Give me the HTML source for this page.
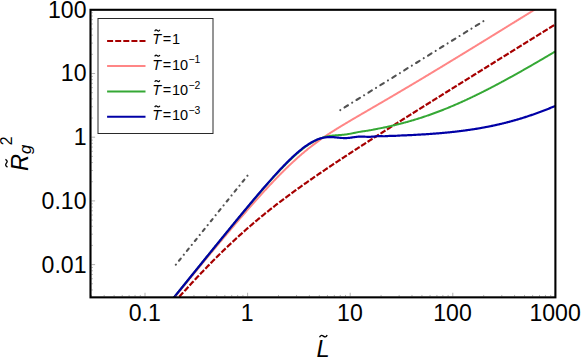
<!DOCTYPE html>
<html><head><meta charset="utf-8"><style>
html,body{margin:0;padding:0;background:#fff}
svg{display:block}
text{font-family:"Liberation Sans",sans-serif;fill:#000}
</style></head><body>
<svg width="581" height="357" viewBox="0 0 581 357">
<rect width="581" height="357" fill="#fff"/>
<defs><clipPath id="c"><rect x="90.5" y="9.8" width="464.9" height="287.55"/></clipPath></defs>
<g clip-path="url(#c)">
<path d="M144.18,337.23 L144.85,336.44 L145.52,335.65 L146.19,334.86 L146.86,334.07 L147.53,333.28 L148.20,332.49 L148.87,331.71 L149.54,330.92 L150.22,330.13 L150.89,329.35 L151.56,328.56 L152.23,327.78 L152.90,327.00 L153.57,326.21 L154.24,325.43 L154.91,324.65 L155.58,323.87 L156.25,323.09 L156.92,322.31 L157.59,321.53 L158.26,320.76 L158.94,319.98 L159.61,319.20 L160.28,318.43 L160.95,317.66 L161.62,316.88 L162.29,316.11 L162.96,315.34 L163.63,314.57 L164.30,313.80 L164.97,313.03 L165.64,312.26 L166.31,311.49 L166.99,310.72 L167.66,309.96 L168.33,309.19 L169.00,308.43 L169.67,307.67 L170.34,306.90 L171.01,306.14 L171.68,305.38 L172.35,304.62 L173.02,303.87 L173.69,303.11 L174.36,302.35 L175.04,301.60 L175.71,300.84 L176.38,300.09 L177.05,299.34 L177.72,298.59 L178.39,297.84 L179.06,297.09 L179.73,296.34 L180.40,295.59 L181.07,294.85 L181.74,294.10 L182.41,293.36 L183.08,292.62 L183.76,291.88 L184.43,291.14 L185.10,290.40 L185.77,289.66 L186.44,288.92 L187.11,288.19 L187.78,287.46 L188.45,286.72 L189.12,285.99 L189.79,285.26 L190.46,284.53 L191.13,283.81 L191.81,283.08 L192.48,282.35 L193.15,281.63 L193.82,280.91 L194.49,280.19 L195.16,279.47 L195.83,278.75 L196.50,278.03 L197.17,277.32 L197.84,276.61 L198.51,275.89 L199.18,275.18 L199.86,274.47 L200.53,273.76 L201.20,273.06 L201.87,272.35 L202.54,271.65 L203.21,270.95 L203.88,270.25 L204.55,269.55 L205.22,268.85 L205.89,268.15 L206.56,267.46 L207.23,266.77 L207.91,266.08 L208.58,265.39 L209.25,264.70 L209.92,264.01 L210.59,263.33 L211.26,262.64 L211.93,261.96 L212.60,261.28 L213.27,260.60 L213.94,259.93 L214.61,259.25 L215.28,258.58 L215.95,257.91 L216.63,257.24 L217.30,256.57 L217.97,255.90 L218.64,255.24 L219.31,254.58 L219.98,253.92 L220.65,253.26 L221.32,252.60 L221.99,251.94 L222.66,251.29 L223.33,250.64 L224.00,249.99 L224.68,249.34 L225.35,248.69 L226.02,248.05 L226.69,247.40 L227.36,246.76 L228.03,246.12 L228.70,245.48 L229.37,244.85 L230.04,244.21 L230.71,243.58 L231.38,242.95 L232.05,242.32 L232.73,241.69 L233.40,241.07 L234.07,240.45 L234.74,239.83 L235.41,239.21 L236.08,238.59 L236.75,237.97 L237.42,237.36 L238.09,236.75 L238.76,236.14 L239.43,235.53 L240.10,234.92 L240.78,234.32 L241.45,233.71 L242.12,233.11 L242.79,232.51 L243.46,231.91 L244.13,231.32 L244.80,230.72 L245.47,230.13 L246.14,229.54 L246.81,228.95 L247.48,228.37 L248.15,227.78 L248.82,227.20 L249.50,226.62 L250.17,226.04 L250.84,225.46 L251.51,224.88 L252.18,224.31 L252.85,223.74 L253.52,223.16 L254.19,222.60 L254.86,222.03 L255.53,221.46 L256.20,220.90 L256.87,220.34 L257.55,219.77 L258.22,219.22 L258.89,218.66 L259.56,218.10 L260.23,217.55 L260.90,217.00 L261.57,216.44 L262.24,215.90 L262.91,215.35 L263.58,214.80 L264.25,214.26 L264.92,213.71 L265.60,213.17 L266.27,212.63 L266.94,212.09 L267.61,211.56 L268.28,211.02 L268.95,210.49 L269.62,209.96 L270.29,209.42 L270.96,208.89 L271.63,208.37 L272.30,207.84 L272.97,207.31 L273.65,206.79 L274.32,206.27 L274.99,205.75 L275.66,205.23 L276.33,204.71 L277.00,204.19 L277.67,203.68 L278.34,203.16 L279.01,202.65 L279.68,202.14 L280.35,201.62 L281.02,201.12 L281.69,200.61 L282.37,200.10 L283.04,199.59 L283.71,199.09 L284.38,198.59 L285.05,198.08 L285.72,197.58 L286.39,197.08 L287.06,196.58 L287.73,196.09 L288.40,195.59 L289.07,195.09 L289.74,194.60 L290.42,194.11 L291.09,193.61 L291.76,193.12 L292.43,192.63 L293.10,192.14 L293.77,191.65 L294.44,191.17 L295.11,190.68 L295.78,190.20 L296.45,189.71 L297.12,189.23 L297.79,188.75 L298.47,188.26 L299.14,187.78 L299.81,187.30 L300.48,186.82 L301.15,186.35 L301.82,185.87 L302.49,185.39 L303.16,184.92 L303.83,184.44 L304.50,183.97 L305.17,183.50 L305.84,183.02 L306.52,182.55 L307.19,182.08 L307.86,181.61 L308.53,181.14 L309.20,180.67 L309.87,180.21 L310.54,179.74 L311.21,179.27 L311.88,178.81 L312.55,178.34 L313.22,177.88 L313.89,177.42 L314.56,176.95 L315.24,176.49 L315.91,176.03 L316.58,175.57 L317.25,175.11 L317.92,174.65 L318.59,174.19 L319.26,173.73 L319.93,173.27 L320.60,172.82 L321.27,172.36 L321.94,171.90 L322.61,171.45 L323.29,170.99 L323.96,170.54 L324.63,170.09 L325.30,169.63 L325.97,169.18 L326.64,168.73 L327.31,168.28 L327.98,167.83 L328.65,167.38 L329.32,166.93 L329.99,166.48 L330.66,166.03 L331.34,165.58 L332.01,165.13 L332.68,164.68 L333.35,164.23 L334.02,163.79 L334.69,163.34 L335.36,162.90 L336.03,162.45 L336.70,162.00 L337.37,161.56 L338.04,161.12 L338.71,160.67 L339.38,160.23 L340.06,159.79 L340.73,159.34 L341.40,158.90 L342.07,158.46 L342.74,158.02 L343.41,157.58 L344.08,157.14 L344.75,156.69 L345.42,156.25 L346.09,155.81 L346.76,155.38 L347.43,154.94 L348.11,154.50 L348.78,154.06 L349.45,153.62 L350.12,153.18 L350.79,152.75 L351.46,152.31 L352.13,151.87 L352.80,151.44 L353.47,151.00 L354.14,150.56 L354.81,150.13 L355.48,149.69 L356.16,149.26 L356.83,148.82 L357.50,148.39 L358.17,147.95 L358.84,147.52 L359.51,147.09 L360.18,146.65 L360.85,146.22 L361.52,145.79 L362.19,145.35 L362.86,144.92 L363.53,144.49 L364.21,144.06 L364.88,143.62 L365.55,143.19 L366.22,142.76 L366.89,142.33 L367.56,141.90 L368.23,141.47 L368.90,141.04 L369.57,140.61 L370.24,140.18 L370.91,139.75 L371.58,139.32 L372.25,138.89 L372.93,138.46 L373.60,138.03 L374.27,137.60 L374.94,137.17 L375.61,136.74 L376.28,136.31 L376.95,135.89 L377.62,135.46 L378.29,135.03 L378.96,134.60 L379.63,134.18 L380.30,133.75 L380.98,133.32 L381.65,132.89 L382.32,132.47 L382.99,132.04 L383.66,131.61 L384.33,131.19 L385.00,130.76 L385.67,130.33 L386.34,129.91 L387.01,129.48 L387.68,129.06 L388.35,128.63 L389.03,128.21 L389.70,127.78 L390.37,127.36 L391.04,126.93 L391.71,126.51 L392.38,126.08 L393.05,125.66 L393.72,125.23 L394.39,124.81 L395.06,124.38 L395.73,123.96 L396.40,123.53 L397.08,123.11 L397.75,122.69 L398.42,122.26 L399.09,121.84 L399.76,121.42 L400.43,120.99 L401.10,120.57 L401.77,120.15 L402.44,119.72 L403.11,119.30 L403.78,118.88 L404.45,118.45 L405.12,118.03 L405.80,117.61 L406.47,117.19 L407.14,116.76 L407.81,116.34 L408.48,115.92 L409.15,115.50 L409.82,115.07 L410.49,114.65 L411.16,114.23 L411.83,113.81 L412.50,113.39 L413.17,112.96 L413.85,112.54 L414.52,112.12 L415.19,111.70 L415.86,111.28 L416.53,110.86 L417.20,110.44 L417.87,110.01 L418.54,109.59 L419.21,109.17 L419.88,108.75 L420.55,108.33 L421.22,107.91 L421.90,107.49 L422.57,107.07 L423.24,106.65 L423.91,106.23 L424.58,105.81 L425.25,105.39 L425.92,104.97 L426.59,104.55 L427.26,104.12 L427.93,103.70 L428.60,103.28 L429.27,102.86 L429.95,102.44 L430.62,102.02 L431.29,101.60 L431.96,101.18 L432.63,100.76 L433.30,100.34 L433.97,99.92 L434.64,99.51 L435.31,99.09 L435.98,98.67 L436.65,98.25 L437.32,97.83 L437.99,97.41 L438.67,96.99 L439.34,96.57 L440.01,96.15 L440.68,95.73 L441.35,95.31 L442.02,94.89 L442.69,94.47 L443.36,94.05 L444.03,93.63 L444.70,93.21 L445.37,92.80 L446.04,92.38 L446.72,91.96 L447.39,91.54 L448.06,91.12 L448.73,90.70 L449.40,90.28 L450.07,89.86 L450.74,89.44 L451.41,89.03 L452.08,88.61 L452.75,88.19 L453.42,87.77 L454.09,87.35 L454.77,86.93 L455.44,86.51 L456.11,86.10 L456.78,85.68 L457.45,85.26 L458.12,84.84 L458.79,84.42 L459.46,84.00 L460.13,83.59 L460.80,83.17 L461.47,82.75 L462.14,82.33 L462.82,81.91 L463.49,81.49 L464.16,81.08 L464.83,80.66 L465.50,80.24 L466.17,79.82 L466.84,79.40 L467.51,78.99 L468.18,78.57 L468.85,78.15 L469.52,77.73 L470.19,77.31 L470.86,76.90 L471.54,76.48 L472.21,76.06 L472.88,75.64 L473.55,75.22 L474.22,74.81 L474.89,74.39 L475.56,73.97 L476.23,73.55 L476.90,73.14 L477.57,72.72 L478.24,72.30 L478.91,71.88 L479.59,71.47 L480.26,71.05 L480.93,70.63 L481.60,70.21 L482.27,69.79 L482.94,69.38 L483.61,68.96 L484.28,68.54 L484.95,68.12 L485.62,67.71 L486.29,67.29 L486.96,66.87 L487.64,66.45 L488.31,66.04 L488.98,65.62 L489.65,65.20 L490.32,64.78 L490.99,64.37 L491.66,63.95 L492.33,63.53 L493.00,63.12 L493.67,62.70 L494.34,62.28 L495.01,61.86 L495.68,61.45 L496.36,61.03 L497.03,60.61 L497.70,60.19 L498.37,59.78 L499.04,59.36 L499.71,58.94 L500.38,58.53 L501.05,58.11 L501.72,57.69 L502.39,57.27 L503.06,56.86 L503.73,56.44 L504.41,56.02 L505.08,55.60 L505.75,55.19 L506.42,54.77 L507.09,54.35 L507.76,53.94 L508.43,53.52 L509.10,53.10 L509.77,52.69 L510.44,52.27 L511.11,51.85 L511.78,51.43 L512.46,51.02 L513.13,50.60 L513.80,50.18 L514.47,49.77 L515.14,49.35 L515.81,48.93 L516.48,48.51 L517.15,48.10 L517.82,47.68 L518.49,47.26 L519.16,46.85 L519.83,46.43 L520.51,46.01 L521.18,45.60 L521.85,45.18 L522.52,44.76 L523.19,44.35 L523.86,43.93 L524.53,43.51 L525.20,43.09 L525.87,42.68 L526.54,42.26 L527.21,41.84 L527.88,41.43 L528.55,41.01 L529.23,40.59 L529.90,40.18 L530.57,39.76 L531.24,39.34 L531.91,38.93 L532.58,38.51 L533.25,38.09 L533.92,37.68 L534.59,37.26 L535.26,36.84 L535.93,36.42 L536.60,36.01 L537.28,35.59 L537.95,35.17 L538.62,34.76 L539.29,34.34 L539.96,33.92 L540.63,33.51 L541.30,33.09 L541.97,32.67 L542.64,32.26 L543.31,31.84 L543.98,31.42 L544.65,31.01 L545.33,30.59 L546.00,30.17 L546.67,29.76 L547.34,29.34 L548.01,28.92 L548.68,28.51 L549.35,28.09 L550.02,27.67 L550.69,27.26 L551.36,26.84 L552.03,26.42 L552.70,26.01 L553.38,25.59 L554.05,25.17 L554.72,24.76 L555.39,24.34 L556.06,23.92 L556.73,23.51 L557.40,23.09" fill="none" stroke="#a60000" stroke-width="2.2" stroke-dasharray="5.9 1.75" stroke-linejoin="round"/>
<path d="M142.17,337.18 L142.84,336.35 L143.51,335.52 L144.18,334.69 L144.85,333.86 L145.52,333.04 L146.19,332.21 L146.86,331.38 L147.53,330.55 L148.20,329.73 L148.87,328.90 L149.54,328.07 L150.22,327.24 L150.89,326.42 L151.56,325.59 L152.23,324.76 L152.90,323.94 L153.57,323.11 L154.24,322.28 L154.91,321.46 L155.58,320.63 L156.25,319.80 L156.92,318.98 L157.59,318.15 L158.26,317.32 L158.94,316.50 L159.61,315.67 L160.28,314.85 L160.95,314.02 L161.62,313.20 L162.29,312.37 L162.96,311.55 L163.63,310.72 L164.30,309.90 L164.97,309.07 L165.64,308.25 L166.31,307.42 L166.99,306.60 L167.66,305.77 L168.33,304.95 L169.00,304.12 L169.67,303.30 L170.34,302.48 L171.01,301.65 L171.68,300.83 L172.35,300.01 L173.02,299.18 L173.69,298.36 L174.36,297.54 L175.04,296.71 L175.71,295.89 L176.38,295.07 L177.05,294.25 L177.72,293.43 L178.39,292.60 L179.06,291.78 L179.73,290.96 L180.40,290.14 L181.07,289.32 L181.74,288.50 L182.41,287.68 L183.08,286.86 L183.76,286.04 L184.43,285.22 L185.10,284.40 L185.77,283.58 L186.44,282.76 L187.11,281.94 L187.78,281.12 L188.45,280.30 L189.12,279.48 L189.79,278.66 L190.46,277.85 L191.13,277.03 L191.81,276.21 L192.48,275.39 L193.15,274.58 L193.82,273.76 L194.49,272.94 L195.16,272.13 L195.83,271.31 L196.50,270.50 L197.17,269.68 L197.84,268.87 L198.51,268.05 L199.18,267.24 L199.86,266.42 L200.53,265.61 L201.20,264.80 L201.87,263.98 L202.54,263.17 L203.21,262.36 L203.88,261.55 L204.55,260.73 L205.22,259.92 L205.89,259.11 L206.56,258.30 L207.23,257.49 L207.91,256.68 L208.58,255.87 L209.25,255.06 L209.92,254.25 L210.59,253.45 L211.26,252.64 L211.93,251.83 L212.60,251.02 L213.27,250.22 L213.94,249.41 L214.61,248.61 L215.28,247.80 L215.95,247.00 L216.63,246.19 L217.30,245.39 L217.97,244.59 L218.64,243.78 L219.31,242.98 L219.98,242.18 L220.65,241.38 L221.32,240.58 L221.99,239.78 L222.66,238.98 L223.33,238.18 L224.00,237.38 L224.68,236.58 L225.35,235.79 L226.02,234.99 L226.69,234.20 L227.36,233.40 L228.03,232.61 L228.70,231.81 L229.37,231.02 L230.04,230.23 L230.71,229.44 L231.38,228.65 L232.05,227.86 L232.73,227.07 L233.40,226.28 L234.07,225.49 L234.74,224.70 L235.41,223.92 L236.08,223.13 L236.75,222.35 L237.42,221.57 L238.09,220.78 L238.76,220.00 L239.43,219.22 L240.10,218.44 L240.78,217.66 L241.45,216.88 L242.12,216.11 L242.79,215.33 L243.46,214.56 L244.13,213.78 L244.80,213.01 L245.47,212.24 L246.14,211.47 L246.81,210.70 L247.48,209.93 L248.15,209.16 L248.82,208.40 L249.50,207.63 L250.17,206.87 L250.84,206.11 L251.51,205.34 L252.18,204.58 L252.85,203.83 L253.52,203.07 L254.19,202.31 L254.86,201.56 L255.53,200.81 L256.20,200.06 L256.87,199.31 L257.55,198.56 L258.22,197.81 L258.89,197.06 L259.56,196.32 L260.23,195.58 L260.90,194.84 L261.57,194.10 L262.24,193.36 L262.91,192.63 L263.58,191.89 L264.25,191.16 L264.92,190.43 L265.60,189.70 L266.27,188.98 L266.94,188.25 L267.61,187.53 L268.28,186.81 L268.95,186.09 L269.62,185.37 L270.29,184.66 L270.96,183.95 L271.63,183.24 L272.30,182.53 L272.97,181.82 L273.65,181.12 L274.32,180.42 L274.99,179.72 L275.66,179.03 L276.33,178.33 L277.00,177.64 L277.67,176.95 L278.34,176.26 L279.01,175.58 L279.68,174.90 L280.35,174.22 L281.02,173.54 L281.69,172.87 L282.37,172.20 L283.04,171.53 L283.71,170.87 L284.38,170.20 L285.05,169.55 L285.72,168.89 L286.39,168.24 L287.06,167.59 L287.73,166.94 L288.40,166.29 L289.07,165.65 L289.74,165.01 L290.42,164.38 L291.09,163.75 L291.76,163.12 L292.43,162.49 L293.10,161.87 L293.77,161.25 L294.44,160.64 L295.11,160.03 L295.78,159.42 L296.45,158.82 L297.12,158.21 L297.79,157.62 L298.47,157.02 L299.14,156.43 L299.81,155.84 L300.48,155.26 L301.15,154.68 L301.82,154.11 L302.49,153.53 L303.16,152.97 L303.83,152.40 L304.50,151.84 L305.17,151.28 L305.84,150.73 L306.52,150.18 L307.19,149.63 L307.86,149.09 L308.53,148.55 L309.20,148.02 L309.87,147.48 L310.54,146.96 L311.21,146.43 L311.88,145.91 L312.55,145.40 L313.22,144.88 L313.89,144.37 L314.56,143.87 L315.24,143.37 L315.91,142.87 L316.58,142.37 L317.25,141.88 L317.92,141.39 L318.59,140.91 L319.26,140.43 L319.93,139.95 L320.60,139.47 L321.27,139.00 L321.94,138.53 L322.61,138.07 L323.29,137.61 L323.96,137.15 L324.63,136.69 L325.30,136.24 L325.97,135.78 L326.64,135.34 L327.31,134.89 L327.98,134.45 L328.65,134.01 L329.32,133.57 L329.99,133.13 L330.66,132.70 L331.34,132.27 L332.01,131.84 L332.68,131.41 L333.35,130.99 L334.02,130.56 L334.69,130.14 L335.36,129.72 L336.03,129.30 L336.70,128.89 L337.37,128.47 L338.04,128.06 L338.71,127.65 L339.38,127.23 L340.06,126.83 L340.73,126.42 L341.40,126.01 L342.07,125.60 L342.74,125.20 L343.41,124.79 L344.08,124.39 L344.75,123.99 L345.42,123.59 L346.09,123.19 L346.76,122.79 L347.43,122.39 L348.11,121.99 L348.78,121.59 L349.45,121.19 L350.12,120.80 L350.79,120.40 L351.46,120.00 L352.13,119.61 L352.80,119.21 L353.47,118.82 L354.14,118.43 L354.81,118.03 L355.48,117.64 L356.16,117.25 L356.83,116.85 L357.50,116.46 L358.17,116.07 L358.84,115.68 L359.51,115.29 L360.18,114.89 L360.85,114.50 L361.52,114.11 L362.19,113.72 L362.86,113.33 L363.53,112.94 L364.21,112.55 L364.88,112.16 L365.55,111.77 L366.22,111.38 L366.89,110.99 L367.56,110.60 L368.23,110.21 L368.90,109.82 L369.57,109.43 L370.24,109.04 L370.91,108.65 L371.58,108.26 L372.25,107.87 L372.93,107.48 L373.60,107.09 L374.27,106.70 L374.94,106.31 L375.61,105.92 L376.28,105.53 L376.95,105.14 L377.62,104.75 L378.29,104.36 L378.96,103.97 L379.63,103.58 L380.30,103.19 L380.98,102.80 L381.65,102.41 L382.32,102.02 L382.99,101.63 L383.66,101.24 L384.33,100.84 L385.00,100.45 L385.67,100.06 L386.34,99.67 L387.01,99.28 L387.68,98.88 L388.35,98.49 L389.03,98.10 L389.70,97.71 L390.37,97.31 L391.04,96.92 L391.71,96.53 L392.38,96.13 L393.05,95.74 L393.72,95.35 L394.39,94.95 L395.06,94.56 L395.73,94.16 L396.40,93.77 L397.08,93.38 L397.75,92.98 L398.42,92.59 L399.09,92.19 L399.76,91.79 L400.43,91.40 L401.10,91.00 L401.77,90.61 L402.44,90.21 L403.11,89.81 L403.78,89.42 L404.45,89.02 L405.12,88.62 L405.80,88.23 L406.47,87.83 L407.14,87.43 L407.81,87.04 L408.48,86.64 L409.15,86.24 L409.82,85.84 L410.49,85.44 L411.16,85.04 L411.83,84.64 L412.50,84.25 L413.17,83.85 L413.85,83.45 L414.52,83.05 L415.19,82.65 L415.86,82.25 L416.53,81.85 L417.20,81.45 L417.87,81.05 L418.54,80.65 L419.21,80.25 L419.88,79.84 L420.55,79.44 L421.22,79.04 L421.90,78.64 L422.57,78.24 L423.24,77.84 L423.91,77.43 L424.58,77.03 L425.25,76.63 L425.92,76.23 L426.59,75.82 L427.26,75.42 L427.93,75.02 L428.60,74.62 L429.27,74.21 L429.95,73.81 L430.62,73.40 L431.29,73.00 L431.96,72.60 L432.63,72.19 L433.30,71.79 L433.97,71.38 L434.64,70.98 L435.31,70.57 L435.98,70.17 L436.65,69.76 L437.32,69.36 L437.99,68.95 L438.67,68.55 L439.34,68.14 L440.01,67.74 L440.68,67.33 L441.35,66.92 L442.02,66.52 L442.69,66.11 L443.36,65.71 L444.03,65.30 L444.70,64.89 L445.37,64.49 L446.04,64.08 L446.72,63.67 L447.39,63.26 L448.06,62.86 L448.73,62.45 L449.40,62.04 L450.07,61.63 L450.74,61.23 L451.41,60.82 L452.08,60.41 L452.75,60.00 L453.42,59.59 L454.09,59.19 L454.77,58.78 L455.44,58.37 L456.11,57.96 L456.78,57.55 L457.45,57.14 L458.12,56.73 L458.79,56.32 L459.46,55.92 L460.13,55.51 L460.80,55.10 L461.47,54.69 L462.14,54.28 L462.82,53.87 L463.49,53.46 L464.16,53.05 L464.83,52.64 L465.50,52.23 L466.17,51.82 L466.84,51.41 L467.51,51.00 L468.18,50.59 L468.85,50.18 L469.52,49.77 L470.19,49.36 L470.86,48.95 L471.54,48.53 L472.21,48.12 L472.88,47.71 L473.55,47.30 L474.22,46.89 L474.89,46.48 L475.56,46.07 L476.23,45.66 L476.90,45.25 L477.57,44.83 L478.24,44.42 L478.91,44.01 L479.59,43.60 L480.26,43.19 L480.93,42.78 L481.60,42.36 L482.27,41.95 L482.94,41.54 L483.61,41.13 L484.28,40.72 L484.95,40.30 L485.62,39.89 L486.29,39.48 L486.96,39.07 L487.64,38.65 L488.31,38.24 L488.98,37.83 L489.65,37.42 L490.32,37.00 L490.99,36.59 L491.66,36.18 L492.33,35.76 L493.00,35.35 L493.67,34.94 L494.34,34.53 L495.01,34.11 L495.68,33.70 L496.36,33.29 L497.03,32.87 L497.70,32.46 L498.37,32.05 L499.04,31.63 L499.71,31.22 L500.38,30.81 L501.05,30.39 L501.72,29.98 L502.39,29.57 L503.06,29.15 L503.73,28.74 L504.41,28.33 L505.08,27.91 L505.75,27.50 L506.42,27.08 L507.09,26.67 L507.76,26.26 L508.43,25.84 L509.10,25.43 L509.77,25.02 L510.44,24.60 L511.11,24.19 L511.78,23.77 L512.46,23.36 L513.13,22.94 L513.80,22.53 L514.47,22.12 L515.14,21.70 L515.81,21.29 L516.48,20.87 L517.15,20.46 L517.82,20.04 L518.49,19.63 L519.16,19.22 L519.83,18.80 L520.51,18.39 L521.18,17.97 L521.85,17.56 L522.52,17.14 L523.19,16.73 L523.86,16.31 L524.53,15.90 L525.20,15.48 L525.87,15.07 L526.54,14.66 L527.21,14.24 L527.88,13.83 L528.55,13.41 L529.23,13.00 L529.90,12.58 L530.57,12.17 L531.24,11.75 L531.91,11.34 L532.58,10.92 L533.25,10.51 L533.92,10.09 L534.59,9.68 L535.26,9.26 L535.93,8.85 L536.60,8.43 L537.28,8.02 L537.95,7.60 L538.62,7.19 L539.29,6.77 L539.96,6.36 L540.63,5.94 L541.30,5.53 L541.97,5.11 L542.64,4.69 L543.31,4.28 L543.98,3.86 L544.65,3.45 L545.33,3.03 L546.00,2.62 L546.67,2.20 L547.34,1.79 L548.01,1.37 L548.68,0.96 L549.35,0.54 L550.02,0.13 L550.69,-0.29 L551.36,-0.71 L552.03,-1.12 L552.70,-1.54 L553.38,-1.95 L554.05,-2.37 L554.72,-2.78 L555.39,-3.20 L556.06,-3.61 L556.73,-4.03 L557.40,-4.45" fill="none" stroke="#ff8686" stroke-width="2.0" stroke-linejoin="round"/>
<path d="M142.17,336.91 L142.84,336.07 L143.51,335.24 L144.18,334.41 L144.85,333.58 L145.52,332.74 L146.19,331.91 L146.86,331.08 L147.53,330.25 L148.20,329.42 L148.87,328.58 L149.54,327.75 L150.22,326.92 L150.89,326.09 L151.56,325.26 L152.23,324.42 L152.90,323.59 L153.57,322.76 L154.24,321.93 L154.91,321.10 L155.58,320.26 L156.25,319.43 L156.92,318.60 L157.59,317.77 L158.26,316.94 L158.94,316.11 L159.61,315.27 L160.28,314.44 L160.95,313.61 L161.62,312.78 L162.29,311.95 L162.96,311.12 L163.63,310.28 L164.30,309.45 L164.97,308.62 L165.64,307.79 L166.31,306.96 L166.99,306.13 L167.66,305.30 L168.33,304.46 L169.00,303.63 L169.67,302.80 L170.34,301.97 L171.01,301.14 L171.68,300.31 L172.35,299.48 L173.02,298.65 L173.69,297.82 L174.36,296.98 L175.04,296.15 L175.71,295.32 L176.38,294.49 L177.05,293.66 L177.72,292.83 L178.39,292.00 L179.06,291.17 L179.73,290.34 L180.40,289.51 L181.07,288.68 L181.74,287.85 L182.41,287.02 L183.08,286.19 L183.76,285.36 L184.43,284.53 L185.10,283.70 L185.77,282.87 L186.44,282.04 L187.11,281.21 L187.78,280.38 L188.45,279.55 L189.12,278.72 L189.79,277.89 L190.46,277.06 L191.13,276.23 L191.81,275.40 L192.48,274.57 L193.15,273.74 L193.82,272.91 L194.49,272.08 L195.16,271.26 L195.83,270.43 L196.50,269.60 L197.17,268.77 L197.84,267.94 L198.51,267.11 L199.18,266.29 L199.86,265.46 L200.53,264.63 L201.20,263.80 L201.87,262.97 L202.54,262.15 L203.21,261.32 L203.88,260.49 L204.55,259.67 L205.22,258.84 L205.89,258.01 L206.56,257.19 L207.23,256.36 L207.91,255.53 L208.58,254.71 L209.25,253.88 L209.92,253.06 L210.59,252.23 L211.26,251.40 L211.93,250.58 L212.60,249.75 L213.27,248.93 L213.94,248.11 L214.61,247.28 L215.28,246.46 L215.95,245.63 L216.63,244.81 L217.30,243.99 L217.97,243.16 L218.64,242.34 L219.31,241.52 L219.98,240.70 L220.65,239.87 L221.32,239.05 L221.99,238.23 L222.66,237.41 L223.33,236.59 L224.00,235.77 L224.68,234.95 L225.35,234.13 L226.02,233.31 L226.69,232.49 L227.36,231.67 L228.03,230.85 L228.70,230.03 L229.37,229.22 L230.04,228.40 L230.71,227.58 L231.38,226.77 L232.05,225.95 L232.73,225.13 L233.40,224.32 L234.07,223.51 L234.74,222.69 L235.41,221.88 L236.08,221.06 L236.75,220.25 L237.42,219.44 L238.09,218.63 L238.76,217.82 L239.43,217.01 L240.10,216.20 L240.78,215.39 L241.45,214.58 L242.12,213.78 L242.79,212.97 L243.46,212.16 L244.13,211.36 L244.80,210.55 L245.47,209.75 L246.14,208.95 L246.81,208.14 L247.48,207.34 L248.15,206.54 L248.82,205.74 L249.50,204.95 L250.17,204.15 L250.84,203.35 L251.51,202.56 L252.18,201.76 L252.85,200.97 L253.52,200.18 L254.19,199.38 L254.86,198.59 L255.53,197.81 L256.20,197.02 L256.87,196.23 L257.55,195.45 L258.22,194.66 L258.89,193.88 L259.56,193.10 L260.23,192.32 L260.90,191.54 L261.57,190.77 L262.24,189.99 L262.91,189.22 L263.58,188.45 L264.25,187.68 L264.92,186.91 L265.60,186.14 L266.27,185.38 L266.94,184.62 L267.61,183.86 L268.28,183.10 L268.95,182.34 L269.62,181.59 L270.29,180.84 L270.96,180.09 L271.63,179.34 L272.30,178.59 L272.97,177.85 L273.65,177.11 L274.32,176.37 L274.99,175.64 L275.66,174.91 L276.33,174.18 L277.00,173.45 L277.67,172.73 L278.34,172.01 L279.01,171.29 L279.68,170.58 L280.35,169.87 L281.02,169.16 L281.69,168.46 L282.37,167.76 L283.04,167.07 L283.71,166.37 L284.38,165.69 L285.05,165.00 L285.72,164.32 L286.39,163.65 L287.06,162.98 L287.73,162.31 L288.40,161.65 L289.07,160.99 L289.74,160.34 L290.42,159.69 L291.09,159.05 L291.76,158.41 L292.43,157.78 L293.10,157.16 L293.77,156.54 L294.44,155.92 L295.11,155.31 L295.78,154.71 L296.45,154.12 L297.12,153.53 L297.79,152.94 L298.47,152.37 L299.14,151.80 L299.81,151.24 L300.48,150.68 L301.15,150.14 L301.82,149.60 L302.49,149.07 L303.16,148.54 L303.83,148.03 L304.50,147.52 L305.17,147.02 L305.84,146.53 L306.52,146.05 L307.19,145.58 L307.86,145.12 L308.53,144.66 L309.20,144.22 L309.87,143.79 L310.54,143.36 L311.21,142.95 L311.88,142.55 L312.55,142.15 L313.22,141.77 L313.89,141.40 L314.56,141.04 L315.24,140.69 L315.91,140.35 L316.58,140.03 L317.25,139.71 L317.92,139.41 L318.59,139.12 L319.26,138.84 L319.93,138.57 L320.60,138.31 L321.27,138.07 L321.94,137.83 L322.61,137.61 L323.29,137.40 L323.96,137.20 L324.63,137.02 L325.30,136.84 L325.97,136.68 L326.64,136.52 L327.31,136.38 L327.98,136.25 L328.65,136.13 L329.32,136.01 L329.99,135.91 L330.66,135.81 L331.34,135.73 L332.01,135.65 L332.68,135.57 L333.35,135.51 L334.02,135.45 L334.69,135.39 L335.36,135.34 L336.03,135.29 L336.70,135.24 L337.37,135.20 L338.04,135.16 L338.71,135.11 L339.38,135.07 L340.06,135.02 L340.73,134.97 L341.40,134.92 L342.07,134.87 L342.74,134.81 L343.41,134.74 L344.08,134.67 L344.75,134.59 L345.42,134.51 L346.09,134.42 L346.76,134.33 L347.43,134.22 L348.11,134.11 L348.78,134.00 L349.45,133.88 L350.12,133.75 L350.79,133.63 L351.46,133.49 L352.13,133.36 L352.80,133.22 L353.47,133.08 L354.14,132.94 L354.81,132.80 L355.48,132.66 L356.16,132.53 L356.83,132.39 L357.50,132.26 L358.17,132.13 L358.84,132.01 L359.51,131.89 L360.18,131.78 L360.85,131.67 L361.52,131.56 L362.19,131.46 L362.86,131.36 L363.53,131.26 L364.21,131.17 L364.88,131.07 L365.55,130.98 L366.22,130.88 L366.89,130.78 L367.56,130.68 L368.23,130.58 L368.90,130.47 L369.57,130.36 L370.24,130.24 L370.91,130.12 L371.58,129.99 L372.25,129.86 L372.93,129.73 L373.60,129.59 L374.27,129.46 L374.94,129.32 L375.61,129.18 L376.28,129.04 L376.95,128.90 L377.62,128.77 L378.29,128.63 L378.96,128.50 L379.63,128.37 L380.30,128.24 L380.98,128.11 L381.65,127.99 L382.32,127.86 L382.99,127.72 L383.66,127.59 L384.33,127.46 L385.00,127.32 L385.67,127.17 L386.34,127.03 L387.01,126.88 L387.68,126.73 L388.35,126.57 L389.03,126.42 L389.70,126.27 L390.37,126.11 L391.04,125.96 L391.71,125.80 L392.38,125.65 L393.05,125.49 L393.72,125.34 L394.39,125.18 L395.06,125.03 L395.73,124.87 L396.40,124.71 L397.08,124.54 L397.75,124.38 L398.42,124.21 L399.09,124.04 L399.76,123.86 L400.43,123.69 L401.10,123.52 L401.77,123.34 L402.44,123.17 L403.11,122.99 L403.78,122.82 L404.45,122.64 L405.12,122.46 L405.80,122.28 L406.47,122.09 L407.14,121.91 L407.81,121.72 L408.48,121.53 L409.15,121.34 L409.82,121.15 L410.49,120.96 L411.16,120.76 L411.83,120.57 L412.50,120.37 L413.17,120.17 L413.85,119.97 L414.52,119.77 L415.19,119.57 L415.86,119.36 L416.53,119.16 L417.20,118.95 L417.87,118.74 L418.54,118.53 L419.21,118.32 L419.88,118.11 L420.55,117.89 L421.22,117.68 L421.90,117.46 L422.57,117.24 L423.24,117.02 L423.91,116.80 L424.58,116.57 L425.25,116.35 L425.92,116.12 L426.59,115.89 L427.26,115.66 L427.93,115.43 L428.60,115.20 L429.27,114.96 L429.95,114.73 L430.62,114.49 L431.29,114.25 L431.96,114.01 L432.63,113.77 L433.30,113.53 L433.97,113.28 L434.64,113.04 L435.31,112.79 L435.98,112.54 L436.65,112.29 L437.32,112.04 L437.99,111.78 L438.67,111.53 L439.34,111.27 L440.01,111.01 L440.68,110.75 L441.35,110.49 L442.02,110.23 L442.69,109.97 L443.36,109.70 L444.03,109.44 L444.70,109.17 L445.37,108.90 L446.04,108.63 L446.72,108.36 L447.39,108.08 L448.06,107.81 L448.73,107.53 L449.40,107.25 L450.07,106.97 L450.74,106.69 L451.41,106.41 L452.08,106.13 L452.75,105.85 L453.42,105.56 L454.09,105.27 L454.77,104.98 L455.44,104.69 L456.11,104.40 L456.78,104.11 L457.45,103.82 L458.12,103.52 L458.79,103.23 L459.46,102.93 L460.13,102.63 L460.80,102.33 L461.47,102.03 L462.14,101.73 L462.82,101.42 L463.49,101.12 L464.16,100.81 L464.83,100.50 L465.50,100.19 L466.17,99.89 L466.84,99.57 L467.51,99.26 L468.18,98.95 L468.85,98.63 L469.52,98.32 L470.19,98.00 L470.86,97.68 L471.54,97.37 L472.21,97.05 L472.88,96.72 L473.55,96.40 L474.22,96.08 L474.89,95.75 L475.56,95.43 L476.23,95.10 L476.90,94.77 L477.57,94.45 L478.24,94.12 L478.91,93.79 L479.59,93.45 L480.26,93.12 L480.93,92.79 L481.60,92.45 L482.27,92.12 L482.94,91.78 L483.61,91.44 L484.28,91.10 L484.95,90.76 L485.62,90.42 L486.29,90.08 L486.96,89.74 L487.64,89.40 L488.31,89.05 L488.98,88.71 L489.65,88.36 L490.32,88.02 L490.99,87.67 L491.66,87.32 L492.33,86.97 L493.00,86.62 L493.67,86.27 L494.34,85.92 L495.01,85.56 L495.68,85.21 L496.36,84.86 L497.03,84.50 L497.70,84.15 L498.37,83.79 L499.04,83.43 L499.71,83.07 L500.38,82.71 L501.05,82.36 L501.72,81.99 L502.39,81.63 L503.06,81.27 L503.73,80.91 L504.41,80.55 L505.08,80.18 L505.75,79.82 L506.42,79.45 L507.09,79.09 L507.76,78.72 L508.43,78.35 L509.10,77.98 L509.77,77.62 L510.44,77.25 L511.11,76.88 L511.78,76.51 L512.46,76.14 L513.13,75.76 L513.80,75.39 L514.47,75.02 L515.14,74.65 L515.81,74.27 L516.48,73.90 L517.15,73.52 L517.82,73.15 L518.49,72.77 L519.16,72.39 L519.83,72.02 L520.51,71.64 L521.18,71.26 L521.85,70.88 L522.52,70.50 L523.19,70.12 L523.86,69.74 L524.53,69.36 L525.20,68.98 L525.87,68.60 L526.54,68.22 L527.21,67.83 L527.88,67.45 L528.55,67.07 L529.23,66.68 L529.90,66.30 L530.57,65.91 L531.24,65.53 L531.91,65.14 L532.58,64.75 L533.25,64.37 L533.92,63.98 L534.59,63.59 L535.26,63.20 L535.93,62.82 L536.60,62.43 L537.28,62.04 L537.95,61.65 L538.62,61.26 L539.29,60.87 L539.96,60.48 L540.63,60.09 L541.30,59.70 L541.97,59.30 L542.64,58.91 L543.31,58.52 L543.98,58.13 L544.65,57.73 L545.33,57.34 L546.00,56.95 L546.67,56.55 L547.34,56.16 L548.01,55.76 L548.68,55.37 L549.35,54.97 L550.02,54.58 L550.69,54.18 L551.36,53.79 L552.03,53.39 L552.70,52.99 L553.38,52.60 L554.05,52.20 L554.72,51.80 L555.39,51.40 L556.06,51.00 L556.73,50.61 L557.40,50.21" fill="none" stroke="#35a835" stroke-width="2.0" stroke-linejoin="round"/>
<path d="M142.17,336.88 L142.84,336.04 L143.51,335.21 L144.18,334.38 L144.85,333.54 L145.52,332.71 L146.19,331.88 L146.86,331.05 L147.53,330.21 L148.20,329.38 L148.87,328.55 L149.54,327.72 L150.22,326.88 L150.89,326.05 L151.56,325.22 L152.23,324.39 L152.90,323.55 L153.57,322.72 L154.24,321.89 L154.91,321.06 L155.58,320.22 L156.25,319.39 L156.92,318.56 L157.59,317.73 L158.26,316.89 L158.94,316.06 L159.61,315.23 L160.28,314.40 L160.95,313.56 L161.62,312.73 L162.29,311.90 L162.96,311.07 L163.63,310.24 L164.30,309.40 L164.97,308.57 L165.64,307.74 L166.31,306.91 L166.99,306.07 L167.66,305.24 L168.33,304.41 L169.00,303.58 L169.67,302.75 L170.34,301.91 L171.01,301.08 L171.68,300.25 L172.35,299.42 L173.02,298.59 L173.69,297.75 L174.36,296.92 L175.04,296.09 L175.71,295.26 L176.38,294.43 L177.05,293.60 L177.72,292.76 L178.39,291.93 L179.06,291.10 L179.73,290.27 L180.40,289.44 L181.07,288.61 L181.74,287.77 L182.41,286.94 L183.08,286.11 L183.76,285.28 L184.43,284.45 L185.10,283.62 L185.77,282.79 L186.44,281.96 L187.11,281.13 L187.78,280.29 L188.45,279.46 L189.12,278.63 L189.79,277.80 L190.46,276.97 L191.13,276.14 L191.81,275.31 L192.48,274.48 L193.15,273.65 L193.82,272.82 L194.49,271.99 L195.16,271.16 L195.83,270.33 L196.50,269.50 L197.17,268.67 L197.84,267.84 L198.51,267.01 L199.18,266.18 L199.86,265.35 L200.53,264.52 L201.20,263.69 L201.87,262.86 L202.54,262.03 L203.21,261.20 L203.88,260.37 L204.55,259.55 L205.22,258.72 L205.89,257.89 L206.56,257.06 L207.23,256.23 L207.91,255.40 L208.58,254.57 L209.25,253.75 L209.92,252.92 L210.59,252.09 L211.26,251.26 L211.93,250.44 L212.60,249.61 L213.27,248.78 L213.94,247.96 L214.61,247.13 L215.28,246.30 L215.95,245.48 L216.63,244.65 L217.30,243.83 L217.97,243.00 L218.64,242.18 L219.31,241.35 L219.98,240.53 L220.65,239.70 L221.32,238.88 L221.99,238.05 L222.66,237.23 L223.33,236.41 L224.00,235.58 L224.68,234.76 L225.35,233.94 L226.02,233.11 L226.69,232.29 L227.36,231.47 L228.03,230.65 L228.70,229.83 L229.37,229.01 L230.04,228.19 L230.71,227.37 L231.38,226.55 L232.05,225.73 L232.73,224.91 L233.40,224.09 L234.07,223.28 L234.74,222.46 L235.41,221.64 L236.08,220.82 L236.75,220.01 L237.42,219.19 L238.09,218.38 L238.76,217.56 L239.43,216.75 L240.10,215.94 L240.78,215.13 L241.45,214.31 L242.12,213.50 L242.79,212.69 L243.46,211.88 L244.13,211.07 L244.80,210.26 L245.47,209.46 L246.14,208.65 L246.81,207.84 L247.48,207.04 L248.15,206.23 L248.82,205.43 L249.50,204.63 L250.17,203.83 L250.84,203.02 L251.51,202.22 L252.18,201.43 L252.85,200.63 L253.52,199.83 L254.19,199.04 L254.86,198.24 L255.53,197.45 L256.20,196.65 L256.87,195.86 L257.55,195.07 L258.22,194.29 L258.89,193.50 L259.56,192.71 L260.23,191.93 L260.90,191.14 L261.57,190.36 L262.24,189.58 L262.91,188.81 L263.58,188.03 L264.25,187.25 L264.92,186.48 L265.60,185.71 L266.27,184.94 L266.94,184.17 L267.61,183.41 L268.28,182.64 L268.95,181.88 L269.62,181.12 L270.29,180.36 L270.96,179.61 L271.63,178.86 L272.30,178.11 L272.97,177.36 L273.65,176.61 L274.32,175.87 L274.99,175.13 L275.66,174.39 L276.33,173.66 L277.00,172.93 L277.67,172.20 L278.34,171.48 L279.01,170.76 L279.68,170.04 L280.35,169.32 L281.02,168.61 L281.69,167.90 L282.37,167.20 L283.04,166.50 L283.71,165.80 L284.38,165.11 L285.05,164.42 L285.72,163.74 L286.39,163.06 L287.06,162.39 L287.73,161.72 L288.40,161.05 L289.07,160.39 L289.74,159.74 L290.42,159.09 L291.09,158.44 L291.76,157.80 L292.43,157.17 L293.10,156.55 L293.77,155.92 L294.44,155.31 L295.11,154.70 L295.78,154.10 L296.45,153.51 L297.12,152.92 L297.79,152.34 L298.47,151.76 L299.14,151.20 L299.81,150.64 L300.48,150.09 L301.15,149.55 L301.82,149.01 L302.49,148.49 L303.16,147.97 L303.83,147.47 L304.50,146.97 L305.17,146.48 L305.84,146.00 L306.52,145.53 L307.19,145.07 L307.86,144.63 L308.53,144.19 L309.20,143.76 L309.87,143.35 L310.54,142.94 L311.21,142.55 L311.88,142.17 L312.55,141.80 L313.22,141.45 L313.89,141.11 L314.56,140.78 L315.24,140.46 L315.91,140.15 L316.58,139.86 L317.25,139.59 L317.92,139.33 L318.59,139.08 L319.26,138.84 L319.93,138.62 L320.60,138.42 L321.27,138.23 L321.94,138.05 L322.61,137.89 L323.29,137.74 L323.96,137.61 L324.63,137.49 L325.30,137.39 L325.97,137.30 L326.64,137.23 L327.31,137.17 L327.98,137.12 L328.65,137.08 L329.32,137.06 L329.99,137.05 L330.66,137.06 L331.34,137.07 L332.01,137.09 L332.68,137.13 L333.35,137.17 L334.02,137.22 L334.69,137.28 L335.36,137.34 L336.03,137.40 L336.70,137.47 L337.37,137.54 L338.04,137.62 L338.71,137.69 L339.38,137.76 L340.06,137.82 L340.73,137.88 L341.40,137.94 L342.07,137.98 L342.74,138.02 L343.41,138.05 L344.08,138.07 L344.75,138.08 L345.42,138.08 L346.09,138.06 L346.76,138.03 L347.43,138.00 L348.11,137.95 L348.78,137.89 L349.45,137.82 L350.12,137.74 L350.79,137.65 L351.46,137.56 L352.13,137.46 L352.80,137.37 L353.47,137.27 L354.14,137.17 L354.81,137.07 L355.48,136.98 L356.16,136.90 L356.83,136.82 L357.50,136.76 L358.17,136.70 L358.84,136.65 L359.51,136.62 L360.18,136.59 L360.85,136.58 L361.52,136.58 L362.19,136.59 L362.86,136.61 L363.53,136.63 L364.21,136.66 L364.88,136.69 L365.55,136.73 L366.22,136.76 L366.89,136.78 L367.56,136.80 L368.23,136.82 L368.90,136.82 L369.57,136.81 L370.24,136.79 L370.91,136.76 L371.58,136.72 L372.25,136.67 L372.93,136.61 L373.60,136.55 L374.27,136.49 L374.94,136.43 L375.61,136.37 L376.28,136.31 L376.95,136.27 L377.62,136.23 L378.29,136.20 L378.96,136.19 L379.63,136.18 L380.30,136.19 L380.98,136.20 L381.65,136.21 L382.32,136.22 L382.99,136.23 L383.66,136.23 L384.33,136.23 L385.00,136.22 L385.67,136.19 L386.34,136.16 L387.01,136.11 L387.68,136.06 L388.35,136.01 L389.03,135.96 L389.70,135.91 L390.37,135.87 L391.04,135.84 L391.71,135.82 L392.38,135.81 L393.05,135.80 L393.72,135.80 L394.39,135.80 L395.06,135.80 L395.73,135.79 L396.40,135.77 L397.08,135.74 L397.75,135.70 L398.42,135.65 L399.09,135.60 L399.76,135.56 L400.43,135.51 L401.10,135.48 L401.77,135.46 L402.44,135.44 L403.11,135.43 L403.78,135.42 L404.45,135.41 L405.12,135.39 L405.80,135.35 L406.47,135.31 L407.14,135.27 L407.81,135.22 L408.48,135.18 L409.15,135.14 L409.82,135.11 L410.49,135.09 L411.16,135.07 L411.83,135.05 L412.50,135.02 L413.17,134.99 L413.85,134.95 L414.52,134.90 L415.19,134.85 L415.86,134.81 L416.53,134.77 L417.20,134.74 L417.87,134.72 L418.54,134.69 L419.21,134.66 L419.88,134.61 L420.55,134.56 L421.22,134.51 L421.90,134.47 L422.57,134.43 L423.24,134.39 L423.91,134.36 L424.58,134.33 L425.25,134.28 L425.92,134.23 L426.59,134.18 L427.26,134.13 L427.93,134.09 L428.60,134.05 L429.27,134.01 L429.95,133.97 L430.62,133.91 L431.29,133.86 L431.96,133.80 L432.63,133.76 L433.30,133.71 L433.97,133.67 L434.64,133.62 L435.31,133.56 L435.98,133.50 L436.65,133.45 L437.32,133.40 L437.99,133.35 L438.67,133.29 L439.34,133.23 L440.01,133.17 L440.68,133.11 L441.35,133.06 L442.02,133.00 L442.69,132.94 L443.36,132.88 L444.03,132.81 L444.70,132.76 L445.37,132.70 L446.04,132.63 L446.72,132.56 L447.39,132.50 L448.06,132.44 L448.73,132.37 L449.40,132.30 L450.07,132.23 L450.74,132.16 L451.41,132.09 L452.08,132.02 L452.75,131.95 L453.42,131.87 L454.09,131.80 L454.77,131.73 L455.44,131.65 L456.11,131.57 L456.78,131.50 L457.45,131.42 L458.12,131.34 L458.79,131.26 L459.46,131.18 L460.13,131.09 L460.80,131.01 L461.47,130.93 L462.14,130.84 L462.82,130.75 L463.49,130.67 L464.16,130.58 L464.83,130.49 L465.50,130.40 L466.17,130.31 L466.84,130.21 L467.51,130.12 L468.18,130.03 L468.85,129.93 L469.52,129.83 L470.19,129.73 L470.86,129.63 L471.54,129.53 L472.21,129.43 L472.88,129.33 L473.55,129.23 L474.22,129.12 L474.89,129.01 L475.56,128.91 L476.23,128.80 L476.90,128.69 L477.57,128.58 L478.24,128.46 L478.91,128.35 L479.59,128.24 L480.26,128.12 L480.93,128.00 L481.60,127.88 L482.27,127.76 L482.94,127.64 L483.61,127.52 L484.28,127.40 L484.95,127.27 L485.62,127.15 L486.29,127.02 L486.96,126.89 L487.64,126.76 L488.31,126.63 L488.98,126.49 L489.65,126.36 L490.32,126.22 L490.99,126.09 L491.66,125.95 L492.33,125.81 L493.00,125.67 L493.67,125.52 L494.34,125.38 L495.01,125.23 L495.68,125.09 L496.36,124.94 L497.03,124.79 L497.70,124.64 L498.37,124.48 L499.04,124.33 L499.71,124.17 L500.38,124.01 L501.05,123.86 L501.72,123.70 L502.39,123.53 L503.06,123.37 L503.73,123.21 L504.41,123.04 L505.08,122.87 L505.75,122.70 L506.42,122.53 L507.09,122.36 L507.76,122.19 L508.43,122.01 L509.10,121.83 L509.77,121.66 L510.44,121.48 L511.11,121.29 L511.78,121.11 L512.46,120.93 L513.13,120.74 L513.80,120.55 L514.47,120.36 L515.14,120.17 L515.81,119.98 L516.48,119.79 L517.15,119.59 L517.82,119.40 L518.49,119.20 L519.16,119.00 L519.83,118.79 L520.51,118.59 L521.18,118.39 L521.85,118.18 L522.52,117.97 L523.19,117.76 L523.86,117.55 L524.53,117.34 L525.20,117.13 L525.87,116.91 L526.54,116.69 L527.21,116.47 L527.88,116.25 L528.55,116.03 L529.23,115.81 L529.90,115.58 L530.57,115.36 L531.24,115.13 L531.91,114.90 L532.58,114.67 L533.25,114.43 L533.92,114.20 L534.59,113.96 L535.26,113.73 L535.93,113.49 L536.60,113.25 L537.28,113.00 L537.95,112.76 L538.62,112.52 L539.29,112.27 L539.96,112.02 L540.63,111.77 L541.30,111.52 L541.97,111.27 L542.64,111.01 L543.31,110.76 L543.98,110.50 L544.65,110.24 L545.33,109.98 L546.00,109.72 L546.67,109.46 L547.34,109.19 L548.01,108.93 L548.68,108.66 L549.35,108.39 L550.02,108.12 L550.69,107.85 L551.36,107.58 L552.03,107.30 L552.70,107.03 L553.38,106.75 L554.05,106.47 L554.72,106.19 L555.39,105.91 L556.06,105.62 L556.73,105.34 L557.40,105.06" fill="none" stroke="#0000a6" stroke-width="2.2" stroke-linejoin="round"/>
<line x1="175.89" y1="264.60" x2="247.60" y2="175.55" stroke="#525252" stroke-width="2.1" stroke-linecap="round" stroke-dasharray="0.01 4.94 2.8 4.93"/>
<line x1="340.26" y1="110.07" x2="483.69" y2="21.02" stroke="#525252" stroke-width="2.1" stroke-linecap="round" stroke-dasharray="0.01 5.02 4.1 4.91"/>
</g>
<g stroke="#666" stroke-width="0.5"><line x1="91.35" y1="296.35" x2="91.35" y2="294.95"/><line x1="104.17" y1="296.35" x2="104.17" y2="294.95"/><line x1="114.11" y1="296.35" x2="114.11" y2="294.95"/><line x1="122.24" y1="296.35" x2="122.24" y2="294.95"/><line x1="129.11" y1="296.35" x2="129.11" y2="294.95"/><line x1="135.06" y1="296.35" x2="135.06" y2="294.95"/><line x1="140.31" y1="296.35" x2="140.31" y2="294.95"/><line x1="145.00" y1="296.35" x2="145.00" y2="292.75"/><line x1="175.89" y1="296.35" x2="175.89" y2="294.95"/><line x1="193.95" y1="296.35" x2="193.95" y2="294.95"/><line x1="206.77" y1="296.35" x2="206.77" y2="294.95"/><line x1="216.71" y1="296.35" x2="216.71" y2="294.95"/><line x1="224.84" y1="296.35" x2="224.84" y2="294.95"/><line x1="231.71" y1="296.35" x2="231.71" y2="294.95"/><line x1="237.66" y1="296.35" x2="237.66" y2="294.95"/><line x1="242.91" y1="296.35" x2="242.91" y2="294.95"/><line x1="247.60" y1="296.35" x2="247.60" y2="292.75"/><line x1="278.49" y1="296.35" x2="278.49" y2="294.95"/><line x1="296.55" y1="296.35" x2="296.55" y2="294.95"/><line x1="309.37" y1="296.35" x2="309.37" y2="294.95"/><line x1="319.31" y1="296.35" x2="319.31" y2="294.95"/><line x1="327.44" y1="296.35" x2="327.44" y2="294.95"/><line x1="334.31" y1="296.35" x2="334.31" y2="294.95"/><line x1="340.26" y1="296.35" x2="340.26" y2="294.95"/><line x1="345.51" y1="296.35" x2="345.51" y2="294.95"/><line x1="350.20" y1="296.35" x2="350.20" y2="292.75"/><line x1="381.09" y1="296.35" x2="381.09" y2="294.95"/><line x1="399.15" y1="296.35" x2="399.15" y2="294.95"/><line x1="411.97" y1="296.35" x2="411.97" y2="294.95"/><line x1="421.91" y1="296.35" x2="421.91" y2="294.95"/><line x1="430.04" y1="296.35" x2="430.04" y2="294.95"/><line x1="436.91" y1="296.35" x2="436.91" y2="294.95"/><line x1="442.86" y1="296.35" x2="442.86" y2="294.95"/><line x1="448.11" y1="296.35" x2="448.11" y2="294.95"/><line x1="452.80" y1="296.35" x2="452.80" y2="292.75"/><line x1="483.69" y1="296.35" x2="483.69" y2="294.95"/><line x1="501.75" y1="296.35" x2="501.75" y2="294.95"/><line x1="514.57" y1="296.35" x2="514.57" y2="294.95"/><line x1="524.51" y1="296.35" x2="524.51" y2="294.95"/><line x1="532.64" y1="296.35" x2="532.64" y2="294.95"/><line x1="539.51" y1="296.35" x2="539.51" y2="294.95"/><line x1="545.46" y1="296.35" x2="545.46" y2="294.95"/><line x1="550.71" y1="296.35" x2="550.71" y2="294.95"/><line x1="555.40" y1="296.35" x2="555.40" y2="292.75"/><line x1="91.50" y1="289.95" x2="92.90" y2="289.95"/><line x1="91.50" y1="283.78" x2="92.90" y2="283.78"/><line x1="91.50" y1="278.73" x2="92.90" y2="278.73"/><line x1="91.50" y1="274.47" x2="92.90" y2="274.47"/><line x1="91.50" y1="270.77" x2="92.90" y2="270.77"/><line x1="91.50" y1="267.51" x2="92.90" y2="267.51"/><line x1="91.50" y1="264.60" x2="95.10" y2="264.60"/><line x1="91.50" y1="245.42" x2="92.90" y2="245.42"/><line x1="91.50" y1="234.21" x2="92.90" y2="234.21"/><line x1="91.50" y1="226.25" x2="92.90" y2="226.25"/><line x1="91.50" y1="220.08" x2="92.90" y2="220.08"/><line x1="91.50" y1="215.03" x2="92.90" y2="215.03"/><line x1="91.50" y1="210.77" x2="92.90" y2="210.77"/><line x1="91.50" y1="207.07" x2="92.90" y2="207.07"/><line x1="91.50" y1="203.81" x2="92.90" y2="203.81"/><line x1="91.50" y1="200.90" x2="95.10" y2="200.90"/><line x1="91.50" y1="181.72" x2="92.90" y2="181.72"/><line x1="91.50" y1="170.51" x2="92.90" y2="170.51"/><line x1="91.50" y1="162.55" x2="92.90" y2="162.55"/><line x1="91.50" y1="156.38" x2="92.90" y2="156.38"/><line x1="91.50" y1="151.33" x2="92.90" y2="151.33"/><line x1="91.50" y1="147.07" x2="92.90" y2="147.07"/><line x1="91.50" y1="143.37" x2="92.90" y2="143.37"/><line x1="91.50" y1="140.11" x2="92.90" y2="140.11"/><line x1="91.50" y1="137.20" x2="95.10" y2="137.20"/><line x1="91.50" y1="118.02" x2="92.90" y2="118.02"/><line x1="91.50" y1="106.81" x2="92.90" y2="106.81"/><line x1="91.50" y1="98.85" x2="92.90" y2="98.85"/><line x1="91.50" y1="92.68" x2="92.90" y2="92.68"/><line x1="91.50" y1="87.63" x2="92.90" y2="87.63"/><line x1="91.50" y1="83.37" x2="92.90" y2="83.37"/><line x1="91.50" y1="79.67" x2="92.90" y2="79.67"/><line x1="91.50" y1="76.41" x2="92.90" y2="76.41"/><line x1="91.50" y1="73.50" x2="95.10" y2="73.50"/><line x1="91.50" y1="54.32" x2="92.90" y2="54.32"/><line x1="91.50" y1="43.11" x2="92.90" y2="43.11"/><line x1="91.50" y1="35.15" x2="92.90" y2="35.15"/><line x1="91.50" y1="28.98" x2="92.90" y2="28.98"/><line x1="91.50" y1="23.93" x2="92.90" y2="23.93"/><line x1="91.50" y1="19.67" x2="92.90" y2="19.67"/><line x1="91.50" y1="15.97" x2="92.90" y2="15.97"/><line x1="91.50" y1="12.71" x2="92.90" y2="12.71"/><line x1="91.50" y1="9.80" x2="95.10" y2="9.80"/></g>
<rect x="90.5" y="9.8" width="464.9" height="287.55" fill="none" stroke="#000" stroke-width="2.1"/>
<rect x="98.0" y="18.5" width="115.0" height="115.0" fill="#fff" stroke="#2a2a2a" stroke-width="1"/>
<line x1="107.1" y1="40.9" x2="145.5" y2="40.9" stroke="#a60000" stroke-width="2" stroke-dasharray="6 2.1"/>
<text x="152.2" y="44.3" font-size="14.5"><tspan font-style="italic">T</tspan><tspan dx="1.7">=</tspan><tspan dx="0.7">1</tspan></text>
<path d="M0,1.1 C0.9,-0.5 1.7,-0.3 2.6,0.4 S4.3,1.3 5.2,-0.3" transform="translate(154.7,30.1)" fill="none" stroke="#000" stroke-width="1.25"/>
<line x1="107.1" y1="66.1" x2="145.5" y2="66.1" stroke="#ff8686" stroke-width="2"/>
<text x="152.2" y="69.5" font-size="14.5"><tspan font-style="italic">T</tspan><tspan dx="1.7">=</tspan><tspan dx="0.7">10</tspan><tspan font-size="10.4" dy="-6.4" dx="0.4">−1</tspan></text>
<path d="M0,1.1 C0.9,-0.5 1.7,-0.3 2.6,0.4 S4.3,1.3 5.2,-0.3" transform="translate(154.7,55.3)" fill="none" stroke="#000" stroke-width="1.25"/>
<line x1="107.1" y1="91.5" x2="145.5" y2="91.5" stroke="#35a835" stroke-width="2"/>
<text x="152.2" y="94.9" font-size="14.5"><tspan font-style="italic">T</tspan><tspan dx="1.7">=</tspan><tspan dx="0.7">10</tspan><tspan font-size="10.4" dy="-6.4" dx="0.4">−2</tspan></text>
<path d="M0,1.1 C0.9,-0.5 1.7,-0.3 2.6,0.4 S4.3,1.3 5.2,-0.3" transform="translate(154.7,80.7)" fill="none" stroke="#000" stroke-width="1.25"/>
<line x1="107.1" y1="116.8" x2="145.5" y2="116.8" stroke="#0000a6" stroke-width="2"/>
<text x="152.2" y="120.2" font-size="14.5"><tspan font-style="italic">T</tspan><tspan dx="1.7">=</tspan><tspan dx="0.7">10</tspan><tspan font-size="10.4" dy="-6.4" dx="0.4">−3</tspan></text>
<path d="M0,1.1 C0.9,-0.5 1.7,-0.3 2.6,0.4 S4.3,1.3 5.2,-0.3" transform="translate(154.7,106.0)" fill="none" stroke="#000" stroke-width="1.25"/>

<text transform="translate(86.50,17.70) scale(1,1.023)" font-size="23.1" text-anchor="end">100</text>
<text transform="translate(86.50,81.40) scale(1,1.023)" font-size="23.1" text-anchor="end">10</text>
<text transform="translate(86.50,145.10) scale(1,1.023)" font-size="23.1" text-anchor="end">1</text>
<text transform="translate(86.50,208.80) scale(1,1.023)" font-size="23.1" text-anchor="end">0.10</text>
<text transform="translate(86.50,272.50) scale(1,1.023)" font-size="23.1" text-anchor="end">0.01</text>
<text transform="translate(144.70,320.60) scale(1,1.023)" font-size="23.1" text-anchor="middle">0.1</text>
<text transform="translate(247.30,320.60) scale(1,1.023)" font-size="23.1" text-anchor="middle">1</text>
<text transform="translate(349.90,320.60) scale(1,1.023)" font-size="23.1" text-anchor="middle">10</text>
<text transform="translate(452.50,320.60) scale(1,1.023)" font-size="23.1" text-anchor="middle">100</text>
<text transform="translate(555.10,320.60) scale(1,1.023)" font-size="23.1" text-anchor="middle">1000</text>

<!-- x label -->
<text transform="translate(316.60,356.90) scale(1,1.023)" font-size="23.6" font-style="italic">L</text>

<path d="M0,1.6 C1.3,-0.8 2.6,-0.5 3.9,0.5 S6.4,1.9 7.7,-0.5" transform="translate(319.5,335.6)" fill="none" stroke="#000" stroke-width="1.35"/>
<!-- y label -->
<g transform="translate(27.5,171.0) rotate(-90)">
<text transform="translate(0.00,0.00) scale(1,1.023)" font-size="23.6" font-style="italic">R</text>
<text transform="translate(16.90,3.80) scale(1,1.023)" font-size="16.6" font-style="italic">g</text>
<text transform="translate(25.70,-15.30) scale(1,1.023)" font-size="15.8">2</text>

<path d="M0,1.6 C1.3,-0.8 2.6,-0.5 3.9,0.5 S6.4,1.9 7.7,-0.5" transform="translate(3.9,-21.6)" fill="none" stroke="#000" stroke-width="1.35"/>
</g>
</svg>
</body></html>
